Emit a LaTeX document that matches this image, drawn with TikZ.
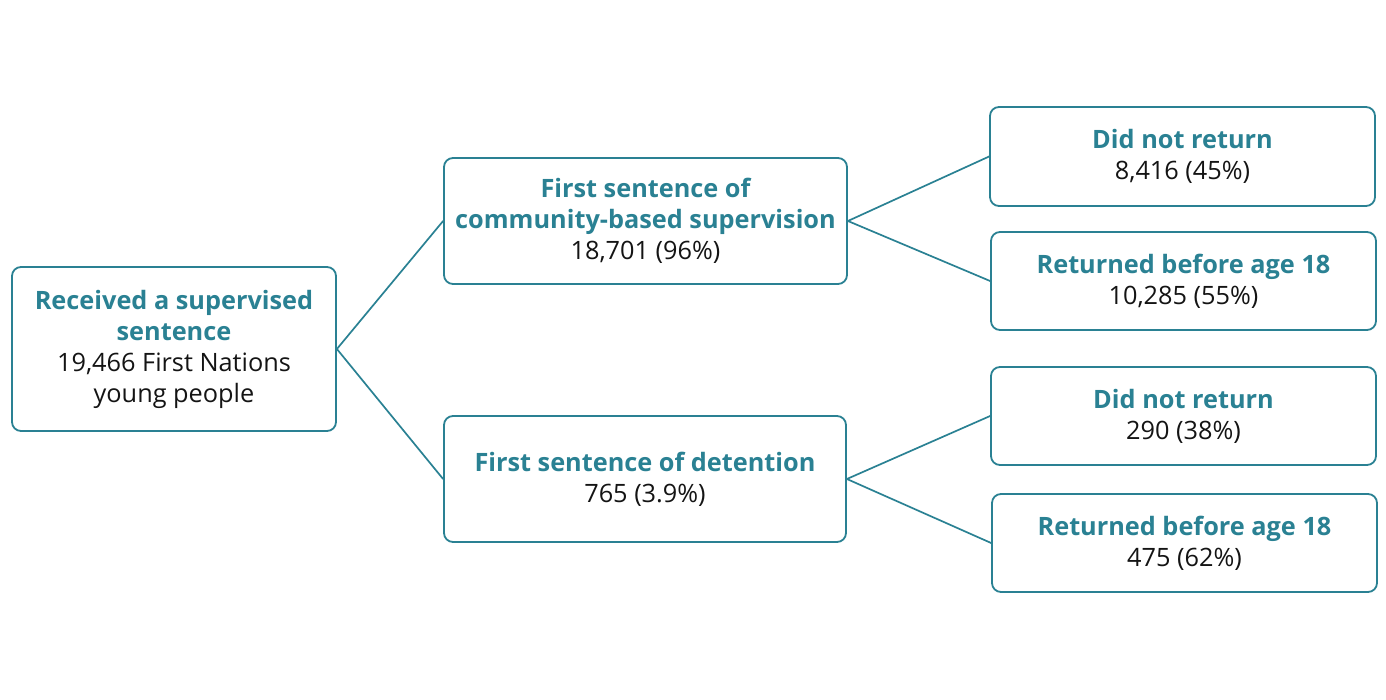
\documentclass[tikz,border=0pt]{standalone}
\usepackage{fontspec}
\setmainfont{Open Sans}
\definecolor{teal1}{HTML}{2A8193}
\begin{document}
\begin{tikzpicture}[x=1pt,y=-1pt,
  box/.style={draw=teal1,line width=1.8pt,rounded corners=9pt,align=center,inner sep=0pt,
    font=\fontsize{25.3}{31}\selectfont,text=black!92},
  ln/.style={draw=teal1,line width=1.7pt}]
\useasboundingbox (0,0) rectangle (1386,700);
\node[box,minimum width=324pt,minimum height=164pt] (a) at (174,349) {{\color{teal1}\bfseries Received a supervised}\\{\color{teal1}\bfseries sentence}\\19,466 First Nations\\young people};
\node[box,minimum width=403pt,minimum height=126pt] (b) at (645.5,221) {{\color{teal1}\bfseries First sentence of}\\{\color{teal1}\bfseries community-based supervision}\\18,701 (96\%)};
\node[box,minimum width=402pt,minimum height=126pt] (c) at (645,479) {{\color{teal1}\bfseries First sentence of detention}\\765 (3.9\%)};
\node[box,minimum width=385pt,minimum height=99pt] (d1) at (1182.5,156.5) {{\color{teal1}\bfseries Did not return}\\8,416 (45\%)};
\node[box,minimum width=385pt,minimum height=98pt] (d2) at (1183.5,281) {{\color{teal1}\bfseries Returned before age 18}\\10,285 (55\%)};
\node[box,minimum width=385pt,minimum height=98pt] (e1) at (1183.5,416) {{\color{teal1}\bfseries Did not return}\\290 (38\%)};
\node[box,minimum width=385pt,minimum height=98pt] (e2) at (1184.5,543) {{\color{teal1}\bfseries Returned before age 18}\\475 (62\%)};
\draw[ln] (a.east) -- (b.west);
\draw[ln] (a.east) -- (c.west);
\draw[ln] (b.east) -- (d1.west);
\draw[ln] (b.east) -- (d2.west);
\draw[ln] (c.east) -- (e1.west);
\draw[ln] (c.east) -- (e2.west);
\end{tikzpicture}
\end{document}
